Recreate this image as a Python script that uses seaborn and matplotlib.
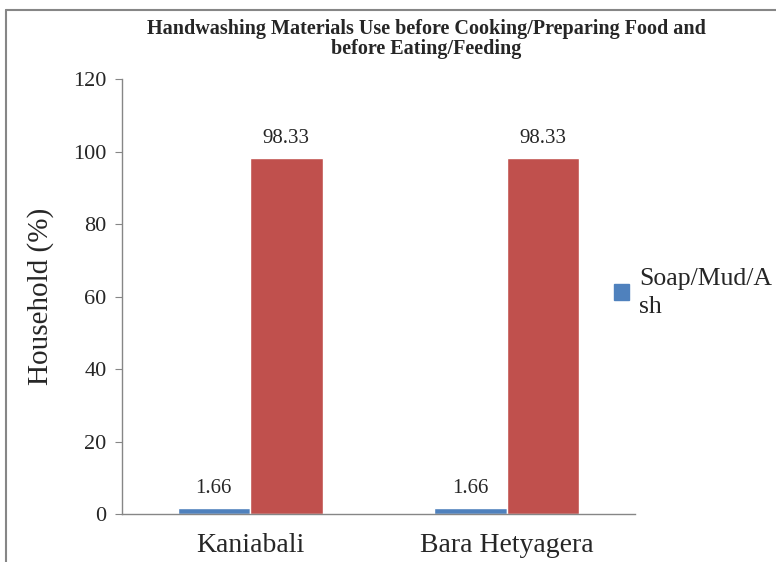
import pandas as pd
import matplotlib.pyplot as plt
import matplotlib.patches as mpatches
from matplotlib.lines import Line2D
import seaborn as sns

# datos
sitios = ["Kaniabali", "Bara Hetyagera"]
series = ["Soap/Mud/Ash", "Water only"]
jabon = [1.66, 1.66]
agua = [98.33, 98.33]
etiquetas_y = [0, 20, 40, 60, 80, 100, 120]

df = pd.DataFrame({
    "sitio": sitios * 2,
    "material": [series[0]] * 2 + [series[1]] * 2,
    "valor": jabon + agua,
})

sns.set_style("white")
plt.rcParams['font.family'] = ['Liberation Serif', 'DejaVu Serif']

fig = plt.figure(figsize=(7.76, 5.62), dpi=100)
ax = fig.add_axes([0.157, 0.0854, 0.661, 0.774])

palette = {series[0]: "#4F81BD", series[1]: "#C0504D"}
sns.barplot(data=df, x="sitio", y="valor", hue="material", palette=palette,
            width=0.565, saturation=1, ax=ax, legend=False)

ax.set_ylim(0, 120)
ax.set_xlim(-0.5, 1.5)
ax.set_yticks(etiquetas_y)
ax.set_yticklabels([str(v) for v in etiquetas_y], fontsize=16)
ax.set_xticks([0, 1])
ax.set_xticklabels(sitios, fontsize=20)
ax.set_xticks([-0.5, 0.5, 1.5], minor=True)
ax.tick_params(axis="x", which="major", length=0, pad=14)
ax.tick_params(axis="x", which="minor", length=6, color="#868686", direction="out")
ax.tick_params(axis="y", length=5, color="#868686", direction="out", left=True, pad=6)
ax.set_xlabel("")
ax.set_ylabel("Household (%)", fontsize=21, labelpad=14)

for s in ["top", "right"]:
    ax.spines[s].set_visible(False)
for s in ["left", "bottom"]:
    ax.spines[s].set_color("#868686")
    ax.spines[s].set_linewidth(1)

for p in ax.patches:
    h = p.get_height()
    if h > 0:
        ax.annotate(f"{h:.2f}", (p.get_x() + p.get_width() / 2, h),
                    ha="center", va="bottom", xytext=(0, 7),
                    textcoords="offset points", fontsize=15)

# leyenda solo con la primera serie (cortada en el original)
handle = mpatches.Patch(color=palette[series[0]])
leg = fig.legend([handle], ["Soap/Mud/A\nsh"], loc="upper left",
                 bbox_to_anchor=(0.761, 0.565), frameon=False, fontsize=18.5,
                 handlelength=0.6, handleheight=0.6, handletextpad=0.4,
                 borderaxespad=0.5, borderpad=0.4)
leg.get_texts()[0].set_linespacing(1.35)

fig.text(0.549, 0.966, "Handwashing Materials Use before Cooking/Preparing Food and\nbefore Eating/Feeding",
         ha="center", va="top", fontsize=14.5, fontweight="bold", linespacing=0.98)

# marco del grafico (solo arriba e izquierda, el resto queda fuera del recorte)
x0 = 6 / 776
y0 = 1 - 10 / 562
fig.add_artist(Line2D([x0, 1.1], [y0, y0], transform=fig.transFigure,
                      color="#868686", linewidth=1.5))
fig.add_artist(Line2D([x0, x0], [-0.1, y0], transform=fig.transFigure,
                      color="#868686", linewidth=1.5))

plt.savefig("out.png", dpi=100)
plt.close()
